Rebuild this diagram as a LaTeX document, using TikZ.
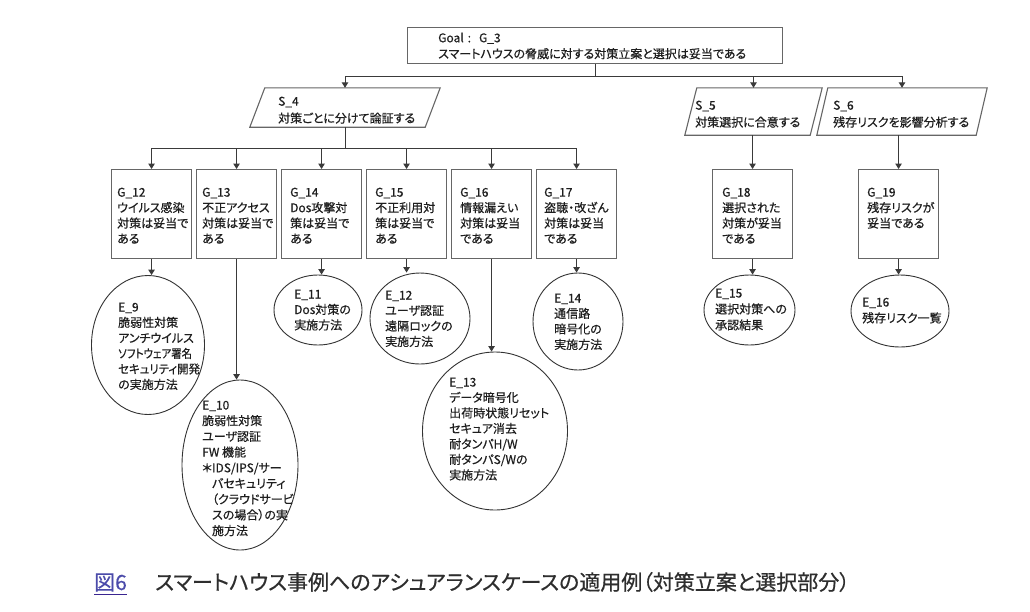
\documentclass[tikz,border=0pt]{standalone}
\usepackage{fontspec}
\setmainfont{Noto Sans CJK JP}[RawFeature=+palt,FakeBold=0.5]
\usetikzlibrary{shapes.geometric,arrows.meta}
\definecolor{boxc}{HTML}{666666}
\definecolor{ellc}{HTML}{333333}
\definecolor{arrc}{HTML}{3A3A3A}
\definecolor{txtc}{HTML}{1E1E1E}
\definecolor{figc}{HTML}{4B4BAA}
\definecolor{ulc}{HTML}{3A2590}
\definecolor{capc}{HTML}{2E2E2E}
\newcommand\pgramdraw[2]{\draw[boxc,line width=1.1pt] (#1.south west) -- ([xshift=#2]#1.north west) -- (#1.north east) -- ([xshift=-#2]#1.south east) -- cycle;}
\begin{document}
\begin{tikzpicture}[x=1pt,y=-1pt,
 gbox/.style={draw=boxc,line width=1.1pt,minimum width=80pt,minimum height=89pt,inner sep=0,anchor=north west},
 sbox/.style={rectangle,inner sep=0},
 ebox/.style={draw=ellc,line width=0.9pt,ellipse,inner sep=0},
 txt/.style={anchor=north west,align=left,inner sep=0,text=txtc,font=\fontsize{12}{15.5}\selectfont},
 stxt/.style={txt,font=\fontsize{12}{17}\selectfont},
 ln/.style={draw=arrc,line width=1pt},
 arr/.style={ln,-{Triangle[width=6.5pt,length=5.5pt]}},
 captxt/.style={anchor=base west,inner sep=0,font=\fontsize{21}{25}\selectfont},
]
\useasboundingbox[fill=white] (0,0) rectangle (1030,611);

% Goal
\node[gbox,minimum width=375pt,minimum height=36pt] (G3) at (407,27) {};
\node[txt,font=\fontsize{12}{16}\selectfont] (tG3) at (438,32.5) {Goal\hspace{4pt}:\hspace{8pt}G\_3\\スマートハウスの脅威に対する対策立案と選択は妥当である};

% Strategies
\node[sbox,minimum width=190pt,minimum height=39pt] (S4) at (345,107.5) {};
\pgramdraw{S4}{15pt}
\node[stxt] (tS4) at (278,96.5) {S\_4\\対策ごとに分けて論証する};
\node[sbox,minimum width=137pt,minimum height=47pt] (S5) at (753.5,111.5) {};
\pgramdraw{S5}{12pt}
\node[stxt] (tS5) at (695,100.5) {S\_5\\対策選択に合意する};
\node[sbox,minimum width=170pt,minimum height=47pt] (S6) at (902,111.5) {};
\pgramdraw{S6}{11pt}
\node[stxt] (tS6) at (833,100.5) {S\_6\\残存リスクを影響分析する};

% Sub-goals
\node[gbox] (G12) at (111,169) {};
\node[txt] (tG12) at (117,187.5) {G\_12\\ウイルス感染\\対策は妥当で\\ある};
\node[gbox] (G13) at (196,169) {};
\node[txt] (tG13) at (202,187.5) {G\_13\\不正アクセス\\対策は妥当で\\ある};
\node[gbox] (G14) at (281,169) {};
\node[txt] (tG14) at (290,187.5) {G\_14\\Dos攻撃対\\策は妥当で\\ある};
\node[gbox] (G15) at (366,169) {};
\node[txt] (tG15) at (375,187.5) {G\_15\\不正利用対\\策は妥当で\\ある};
\node[gbox] (G16) at (451,169) {};
\node[txt] (tG16) at (460,187.5) {G\_16\\情報漏えい\\対策は妥当\\である};
\node[gbox] (G17) at (536,169) {};
\node[txt] (tG17) at (544,187.5) {G\_17\\盗聴・改ざん\\対策は妥当\\である};
\node[gbox] (G18) at (712,169) {};
\node[txt] (tG18) at (722,187.5) {G\_18\\選択された\\対策が妥当\\である};
\node[gbox] (G19) at (858,169) {};
\node[txt] (tG19) at (867,187.5) {G\_19\\残存リスクが\\妥当である};

% Evidence
\node[ebox,minimum width=113pt,minimum height=139pt] (E9) at (148,345) {};
\node[txt] (tE9) at (118,302.5) {E\_9\\脆弱性対策\\アンチウイルス\\\scalebox{0.87}[1]{ソフトウェア署名}\\\scalebox{0.95}[1]{セキュリティ開発}\\の実施方法};
\node[ebox,minimum width=116pt,minimum height=170pt] (E10) at (240,465) {};
\node[txt,font=\fontsize{12}{15.7}\selectfont] (tE10) at (202,400.5) {E\_10\\脆弱性対策\\ユーザ認証\\FW 機能\\＊IDS/IPS/サー\\\hphantom{＊}バセキュリティ\\\hphantom{＊}（クラウドサービ\\\hphantom{＊}スの場合）の実\\\hphantom{＊}施方法};
\node[ebox,minimum width=88pt,minimum height=70pt] (E11) at (318,310) {};
\node[txt] (tE11) at (294,289.5) {E\_11\\Dos対策の\\実施方法};
\node[ebox,minimum width=100pt,minimum height=91pt] (E12) at (420,318.5) {};
\node[txt] (tE12) at (385,290.5) {E\_12\\ユーザ認証\\遠隔ロックの\\実施方法};
\node[ebox,minimum width=145pt,minimum height=158pt] (E13) at (495,431) {};
\node[txt] (tE13) at (449,377.5) {E\_13\\データ暗号化\\出荷時状態リセット\\セキュア消去\\耐タンパH/W\\耐タンパS/Wの\\実施方法};
\node[ebox,minimum width=90pt,minimum height=97pt] (E14) at (578,321.5) {};
\node[txt] (tE14) at (554,293.5) {E\_14\\通信路\\暗号化の\\実施方法};
\node[ebox,minimum width=91pt,minimum height=70pt] (E15) at (749.5,310) {};
\node[txt,font=\fontsize{12}{16}\selectfont] (tE15) at (715,288.5) {E\_15\\選択対策への\\承認結果};
\node[ebox,minimum width=98pt,minimum height=72pt] (E16) at (900,311) {};
\node[txt,font=\fontsize{12}{16}\selectfont] (tE16) at (862,297.5) {E\_16\\残存リスク一覧};

% Connectors: goal to strategies
\coordinate (r0) at (0,76);
\draw[ln] (G3.south) -- (G3.south |- r0);
\draw[ln] (S4.north |- r0) -- (S6.north |- r0);
\draw[arr] (S4.north |- r0) -- (S4.north);
\draw[arr] (S5.north |- r0) -- (S5.north);
\draw[arr] (S6.north |- r0) -- (S6.north);

% S4 to sub-goals
\coordinate (r1) at (0,148);
\draw[ln] (S4.south) -- (S4.south |- r1);
\draw[ln] (G12.north |- r1) -- (G17.north |- r1);
\foreach \g in {G12,G13,G14,G15,G16,G17}
  \draw[arr] (\g.north |- r1) -- (\g.north);
\draw[arr] (G18.north |- S5.south) -- (G18.north);
\draw[arr] (G19.north |- S6.south) -- (G19.north);

% sub-goals to evidence
\draw[arr] (G12.south) -- (G12.south |- E9.north);
\draw[arr] (G13.south) -- (G13.south |- E10.north);
\draw[arr] (G14.south) -- (G14.south |- E11.north);
\draw[arr] (G15.south) -- (G15.south |- E12.north);
\draw[arr] (G16.south) -- (G16.south |- E13.north);
\draw[arr] (G17.south) -- (G17.south |- E14.north);
\draw[arr] (G18.south) -- (G18.south |- E15.north);
\draw[arr] (G19.south) -- (G19.south |- E16.north);

% Caption
\node[captxt,text=figc] (fig) at (94,590) {図6};
\draw[ulc,line width=1.1pt] ([yshift=-4.5pt]fig.base west) -- ([yshift=-4.5pt]fig.base east);
\node[captxt,text=capc] (cap) at (155,590) {スマートハウス事例へのアシュアランスケースの適用例（対策立案と選択部分）};
\end{tikzpicture}
\end{document}
